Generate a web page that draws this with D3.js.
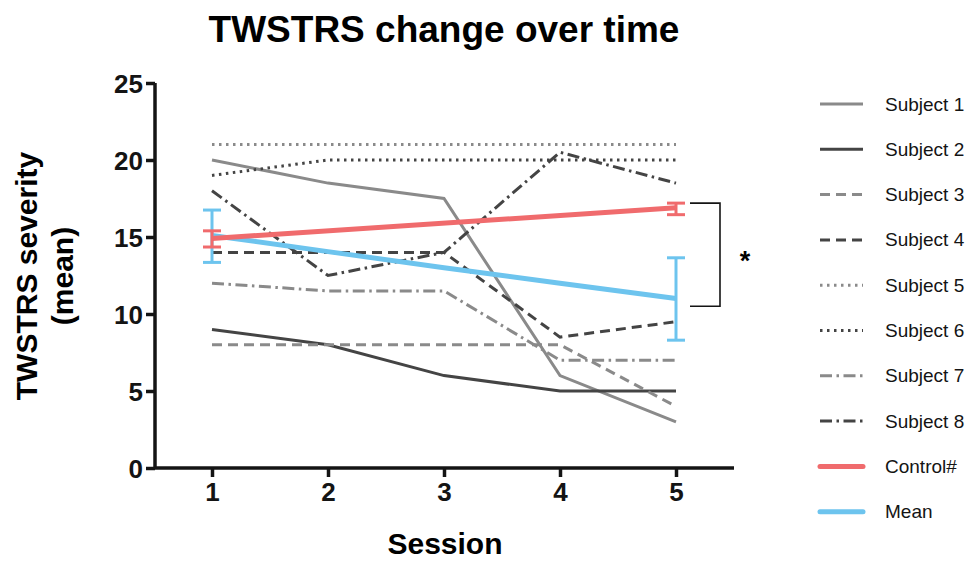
<!DOCTYPE html>
<html>
<head>
<meta charset="utf-8">
<script src="https://cdn.jsdelivr.net/npm/d3@7"></script>
<style>
  body { margin: 0; background: #fff; }
  text { font-family: "Liberation Sans", Arial, Helvetica, sans-serif; }
</style>
</head>
<body>
<div id="chart"></div>
<script>
// data
var sessions = [1, 2, 3, 4, 5]
var subject1 = [20, 18.5, 17.5, 6, 3]
var subject2 = [9, 8, 6, 5, 5]
var subject3 = [8, 8, 8, 8, 4]
var subject4 = [14, 14, 14, 8.5, 9.5]
var subject5 = [21, 21, 21, 21, 21]
var subject6 = [19, 20, 20, 20, 20]
var subject7 = [12, 11.5, 11.5, 7, 7]
var subject8 = [18, 12.5, 14, 20.5, 18.5]
var controlSessions = [1, 5]
var control = [14.9, 16.9]
var controlErr = [[14.35, 15.4], [16.45, 17.2]]
var meanVals = [15.1, 14.05, 13, 12, 11]
var meanErrSessions = [1, 5]
var meanErr = [[13.35, 16.75], [8.3, 13.65]]
var yTicks = [0, 5, 10, 15, 20, 25]

var width = 976, height = 562

var light = "#8a8a8a", dark = "#444444"
var red = "#f06b6d", blue = "#6dc4ee"

var series = [
    {name: "Subject 1", values: subject1, color: light, dash: null},
    {name: "Subject 2", values: subject2, color: dark, dash: null},
    {name: "Subject 3", values: subject3, color: light, dash: "10,6"},
    {name: "Subject 4", values: subject4, color: dark, dash: "10,6"},
    {name: "Subject 5", values: subject5, color: light, dash: "2.5,4.5"},
    {name: "Subject 6", values: subject6, color: dark, dash: "2.5,4.5"},
    {name: "Subject 7", values: subject7, color: light, dash: "12,4.5,2.5,4.5"},
    {name: "Subject 8", values: subject8, color: dark, dash: "12,4.5,2.5,4.5"}
]

var svg = d3.select("#chart").append("svg")
    .attr("width", width)
    .attr("height", height)

var x = d3.scaleLinear()
    .domain([0.5, 5.5])
    .range([154, 734])

var y = d3.scaleLinear()
    .domain([0, 25])
    .range([468, 83])

// title
svg.append("text")
    .attr("x", 444).attr("y", 42)
    .attr("text-anchor", "middle")
    .style("font-size", "37px").style("font-weight", "bold")
    .text("TWSTRS change over time")

// axes
var yAxis = d3.axisLeft(y).tickValues(yTicks).tickSize(9).tickPadding(3)
var xAxis = d3.axisBottom(x).tickValues(sessions).tickFormat(d3.format("d")).tickSize(9).tickPadding(6)

var gy = svg.append("g").attr("transform", "translate(155,0)").call(yAxis)
var gx = svg.append("g").attr("transform", "translate(0,468)").call(xAxis)

;[gx, gy].forEach(g => {
    g.select(".domain").attr("stroke", "#141414").attr("stroke-width", 3.5)
    g.selectAll(".tick line").attr("stroke", "#141414").attr("stroke-width", 3.5)
    g.selectAll(".tick text")
        .attr("fill", "#141414")
        .style("font-size", "26px").style("font-weight", "bold")
        .style("font-family", "'Liberation Sans', Arial, sans-serif")
})
gy.select(".domain").attr("d", "M0,468V83")
gx.select(".domain").attr("d", "M155,0H734")
gy.selectAll(".tick text").attr("dy", "0.36em")

// axis labels
svg.append("text")
    .attr("transform", "translate(37,276) rotate(-90)")
    .attr("text-anchor", "middle")
    .style("font-size", "30px").style("font-weight", "bold")
    .text("TWSTRS severity")
svg.append("text")
    .attr("transform", "translate(73,276) rotate(-90)")
    .attr("text-anchor", "middle")
    .style("font-size", "30px").style("font-weight", "bold")
    .text("(mean)")
svg.append("text")
    .attr("x", 445).attr("y", 554)
    .attr("text-anchor", "middle")
    .style("font-size", "30px").style("font-weight", "bold")
    .text("Session")

var line = d3.line()
    .x(d => x(d[0]))
    .y(d => y(d[1]))

// subject lines
series.forEach(s => {
    svg.append("path")
        .datum(sessions.map((t, i) => [t, s.values[i]]))
        .attr("d", line)
        .attr("fill", "none")
        .attr("stroke", s.color)
        .attr("stroke-width", 3)
        .attr("stroke-dasharray", s.dash)
})

// error bars
function errBars(ts, errs, color) {
    ts.forEach((t, i) => {
        var g = svg.append("g").attr("stroke", color).attr("stroke-width", 3)
        g.append("line").attr("x1", x(t)).attr("x2", x(t))
            .attr("y1", y(errs[i][0])).attr("y2", y(errs[i][1]))
        errs[i].forEach(v => {
            g.append("line").attr("x1", x(t) - 9).attr("x2", x(t) + 9)
                .attr("y1", y(v)).attr("y2", y(v))
        })
    })
}

errBars(meanErrSessions, meanErr, blue)
svg.append("path")
    .datum(sessions.map((t, i) => [t, meanVals[i]]))
    .attr("d", line)
    .attr("fill", "none").attr("stroke", blue).attr("stroke-width", 5)

errBars(controlSessions, controlErr, red)
svg.append("path")
    .datum(controlSessions.map((t, i) => [t, control[i]]))
    .attr("d", line)
    .attr("fill", "none").attr("stroke", red).attr("stroke-width", 5)

// significance bracket
var bx = x(5) + 14
svg.append("path")
    .attr("d", "M" + bx + "," + y(17.2) + "H" + (bx + 30) + "V" + y(10.5) + "H" + bx)
    .attr("fill", "none").attr("stroke", "#141414").attr("stroke-width", 1.6)
svg.append("text")
    .attr("x", bx + 55).attr("y", y(13.85) + 15)
    .attr("text-anchor", "middle")
    .style("font-size", "27px").style("font-weight", "bold")
    .text("*")

// legend
var legendItems = series.map(s => ({name: s.name, color: s.color, dash: s.dash, w: 3}))
legendItems.push({name: "Control#", color: red, dash: null, w: 5})
legendItems.push({name: "Mean", color: blue, dash: null, w: 5})

var leg = svg.append("g")
legendItems.forEach((d, i) => {
    var ly = 104 + i * 45.3
    leg.append("line")
        .attr("x1", 820).attr("x2", 863)
        .attr("y1", ly).attr("y2", ly)
        .attr("stroke", d.color).attr("stroke-width", d.w)
        .attr("stroke-linecap", d.w > 3 ? "round" : "butt")
        .attr("stroke-dasharray", d.dash)
    leg.append("text")
        .attr("x", 885).attr("y", ly + 6.5)
        .style("font-size", "19px")
        .attr("fill", "#141414")
        .text(d.name)
})
</script>
</body>
</html>
